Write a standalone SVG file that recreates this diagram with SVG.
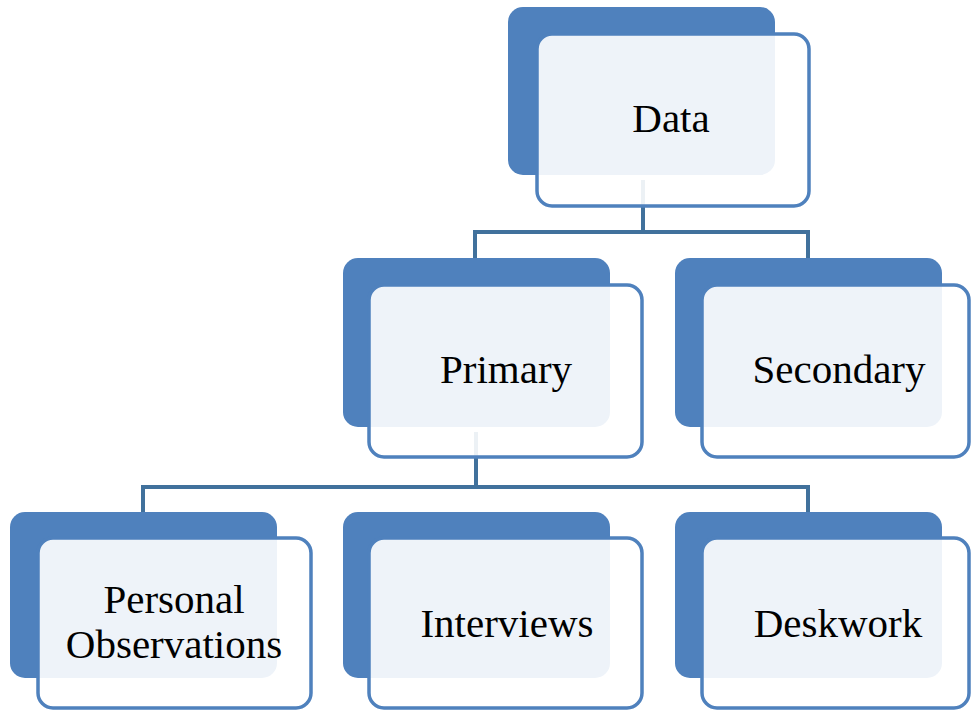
<svg xmlns="http://www.w3.org/2000/svg" width="971" height="710" viewBox="0 0 971 710">
<style>
.back{fill:#4F81BD}
.front{fill:#FFFFFF;fill-opacity:0.9;stroke:#4F81BD;stroke-width:3.5}
.conn{fill:none;stroke:#41719C;stroke-width:4}
text{font-family:"Liberation Serif","Times New Roman",serif;font-size:41px;fill:#000;text-anchor:middle}
</style>
<rect width="971" height="710" fill="#fff"/>
<g id="connectors">
<path class="conn" d="M643,180 V232 M475,258 V232 H808 V258"/>
<path class="conn" d="M476,432 V487 M143,512 V487 H808 V512"/>
</g>
<g id="data">
<rect class="back" x="508" y="7" width="267" height="168" rx="15"/>
<rect class="front" x="537" y="34" width="272" height="172" rx="15"/>
<text x="671" y="132">Data</text>
</g>
<g id="primary">
<rect class="back" x="343" y="258" width="267" height="169" rx="15"/>
<rect class="front" x="369" y="285" width="273" height="172" rx="15"/>
<text x="506" y="383">Primary</text>
</g>
<g id="secondary">
<rect class="back" x="675" y="258" width="267" height="169" rx="15"/>
<rect class="front" x="702" y="285" width="267" height="172" rx="15"/>
<text x="839" y="383">Secondary</text>
</g>
<g id="personal">
<rect class="back" x="10" y="512" width="267" height="166" rx="15"/>
<rect class="front" x="38" y="538" width="273" height="170" rx="15"/>
<text x="174" y="613">Personal</text>
<text x="174" y="658">Observations</text>
</g>
<g id="interviews">
<rect class="back" x="343" y="512" width="267" height="166" rx="15"/>
<rect class="front" x="369" y="538" width="273" height="170" rx="15"/>
<text x="507" y="637">Interviews</text>
</g>
<g id="deskwork">
<rect class="back" x="675" y="512" width="267" height="166" rx="15"/>
<rect class="front" x="702" y="538" width="267" height="170" rx="15"/>
<text x="838" y="637">Deskwork</text>
</g>
</svg>
